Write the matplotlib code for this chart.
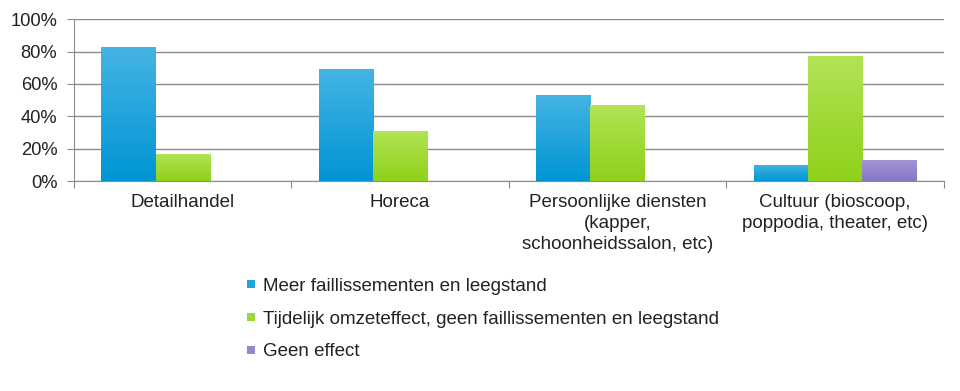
import numpy as np
import matplotlib
matplotlib.use('Agg')
import matplotlib.pyplot as plt
from matplotlib.lines import Line2D
from matplotlib.colors import LinearSegmentedColormap

plt.rcParams['font.family'] = ['Liberation Sans', 'DejaVu Sans']

categories = ['Detailhandel', 'Horeca',
              'Persoonlijke diensten\n(kapper,\nschoonheidssalon, etc)',
              'Cultuur (bioscoop,\npoppodia, theater, etc)']
series_names = ['Meer faillissementen en leegstand',
                'Tijdelijk omzeteffect, geen faillissementen en leegstand',
                'Geen effect']
meer = [83, 69, 53, 10]
tijdelijk = [17, 31, 47, 77]
geen = [0, 0, 0, 13]
yticks = [0, 20, 40, 60, 80, 100]

# kleuren: boven licht, onder donker
grad = [('#45b4e3', '#0095d5'), ('#b2e356', '#8fd11a'), ('#a596d4', '#8676c4')]
solid = ['#1fa3dd', '#9bd93a', '#9587cc']

fig = plt.figure(figsize=(9.6, 3.91), dpi=100)
ax = fig.add_axes([0.077, 0.537, 0.906, 0.414])

x = np.arange(len(categories))
w = 0.249
data = [meer, tijdelijk, geen]
for k, vals in enumerate(data):
    bars = ax.bar(x + (k - 1) * w, vals, w, color=solid[k], zorder=3, linewidth=0)
    cmap = LinearSegmentedColormap.from_list('g%d' % k, [grad[k][1], grad[k][0]])
    for b in bars:
        if b.get_height() <= 0:
            continue
        x0, y0 = b.get_x(), b.get_y()
        im = ax.imshow(np.linspace(0, 1, 100).reshape(-1, 1), cmap=cmap, origin='lower',
                       extent=[x0, x0 + b.get_width(), y0, y0 + b.get_height()],
                       aspect='auto', zorder=3.5)
        im.set_clip_path(b)

ax.set_xlim(-0.5, len(categories) - 0.5)
ax.set_ylim(0, 100)
ax.set_yticks(yticks)
ax.set_yticklabels(['%d%%' % v for v in yticks], fontsize=13.2, color='#222222')
ax.yaxis.grid(True, color='#8c8c8c', linewidth=1, zorder=0)
ax.set_axisbelow(True)

ax.set_xticks(np.arange(len(categories) + 1) - 0.5)
ax.set_xticklabels([])
ax.set_xticks(x, minor=True)
ax.set_xticklabels(categories, minor=True, fontsize=13.5, color='#222222', linespacing=1.32)
ax.tick_params(axis='x', which='minor', length=0, pad=9)
ax.tick_params(axis='x', which='major', length=5, color='#8c8c8c', direction='out')
ax.tick_params(axis='y', length=5, color='#8c8c8c', pad=7)

for s in ['top', 'right']:
    ax.spines[s].set_visible(False)
for s in ['left', 'bottom']:
    ax.spines[s].set_color('#8c8c8c')

handles = [Line2D([], [], marker='s', linestyle='none', markersize=6,
                  markerfacecolor=solid[k], markeredgewidth=0) for k in range(3)]
fig.legend(handles, series_names, loc='upper left', bbox_to_anchor=(0.247, 0.314),
           frameon=False, fontsize=13.5, handlelength=0.5, handletextpad=0.4,
           labelspacing=0.84, borderpad=0, labelcolor='#222222')

fig.savefig('out.png', dpi=100)
